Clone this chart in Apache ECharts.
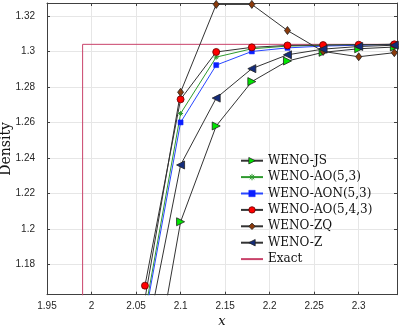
<!DOCTYPE html>
<html>
<head>
<meta charset="utf-8">
<script src="https://cdn.jsdelivr.net/npm/echarts@6/dist/echarts.min.js"></script>
<style>
  html, body { margin: 0; padding: 0; background: #fff; }
  #chart { width: 399px; height: 326px; }
</style>
</head>
<body>
<div id="chart"></div>
<script>
// sample points (x) shared by all schemes
const xs = [2.06, 2.1, 2.14, 2.18, 2.22, 2.26, 2.3, 2.34];

const wenoJS    = [1.091, 1.204, 1.258, 1.283, 1.2946, 1.2995, 1.3015, 1.3025];
const wenoAO53  = [1.153, 1.265, 1.2968, 1.3015, 1.303, 1.3035, 1.3038, 1.304];
const wenoAON53 = [1.150, 1.260, 1.2923, 1.300, 1.302, 1.303, 1.3035, 1.304];
const wenoAO543 = [1.168, 1.273, 1.2997, 1.3023, 1.3034, 1.3036, 1.3038, 1.304];
const wenoZQ    = [1.1606, 1.277, 1.3265, 1.3265, 1.3118, 1.300, 1.297, 1.2993];
const wenoZ     = [1.1345, 1.236, 1.2737, 1.2903, 1.2981, 1.3013, 1.3028, 1.3035];

// exact solution (step)
const exactX = [1.90, 1.99, 1.99, 2.40];
const exactY = [1.00, 1.00, 1.304, 1.304];

const xTickStep = 0.05;
const yTickStep = 0.02;

function pairs(x, y) {
  return x.map((v, i) => [v, y[i]]);
}

const chart = echarts.init(document.getElementById("chart"));

const axisColor = "#404040";
const labelStyle = { color: "#262626", fontSize: 10, fontFamily: "Liberation Sans, Arial, sans-serif" };
const serif = "DejaVu Serif, serif";

// marker styles, reused for the legend icons
const jsStyle    = { color: "#00e600", borderColor: "#222", borderWidth: 0.8 };
const ao53Style  = { color: "transparent", borderColor: "#2e9a2e", borderWidth: 1 };
const aonStyle   = { color: "#0a1eff", borderColor: "#0a1eff", borderWidth: 0.5 };
const ao543Style = { color: "#ff0000", borderColor: "#600", borderWidth: 0.8 };
const zqStyle    = { color: "#8b3a0b", borderColor: "#222", borderWidth: 0.8 };
const zStyle     = { color: "#142c7c", borderColor: "#222", borderWidth: 0.8 };

function lineSeries(name, data, opts) {
  return Object.assign({
    name: name,
    type: "line",
    data: pairs(xs, data),
    symbolSize: 7,
    lineStyle: { color: "#333", width: 1 },
    emphasis: { disabled: true },
    animation: false
  }, opts);
}

const asterisk = "path://M5,0L5,10M0,5L10,5M1.5,1.5L8.5,8.5M1.5,8.5L8.5,1.5";

const option = {
  animation: false,
  grid: { left: 47, right: 2, top: 3, bottom: 31.3, outerBoundsMode: "none", containLabel: false },
  legend: {
    orient: "vertical",
    left: 240,
    top: 152.7,
    padding: 0,
    itemWidth: 22,
    itemHeight: 8,
    itemGap: 0.4,
    selectedMode: false,
    textStyle: { fontFamily: serif, fontSize: 12, color: "#111", lineHeight: 16 },
    data: [
      { name: "WENO-JS", itemStyle: jsStyle },
      { name: "WENO-AO(5,3)", itemStyle: ao53Style },
      { name: "WENO-AON(5,3)", itemStyle: aonStyle },
      { name: "WENO-AO(5,4,3)", itemStyle: ao543Style },
      { name: "WENO-ZQ", itemStyle: zqStyle },
      { name: "WENO-Z", itemStyle: zStyle },
      { name: "Exact", itemStyle: { opacity: 0 } }
    ]
  },
  xAxis: [
    {
      type: "value",
      min: 1.95,
      max: 2.343,
      interval: xTickStep,
      name: "x",
      nameLocation: "middle",
      nameGap: 20,
      nameMoveOverlap: false,
      nameTextStyle: { fontFamily: serif, fontStyle: "italic", fontSize: 13, color: "#111" },
      axisLine: { lineStyle: { color: axisColor } },
      axisTick: { inside: true, length: 3, lineStyle: { color: axisColor } },
      axisLabel: Object.assign({ margin: 7, showMaxLabel: false }, labelStyle),
      splitLine: { lineStyle: { color: "#e6e6e6" } }
    },
    {
      type: "value",
      position: "top",
      min: 1.95,
      max: 2.343,
      interval: xTickStep,
      axisLine: { lineStyle: { color: axisColor } },
      axisTick: { inside: true, length: 3, lineStyle: { color: axisColor } },
      axisLabel: { show: false },
      splitLine: { show: false }
    }
  ],
  yAxis: [
    {
      type: "value",
      min: 1.1629,
      max: 1.3273,
      splitNumber: 8,
      minInterval: yTickStep,
      maxInterval: yTickStep,
      name: "Density",
      nameLocation: "middle",
      nameGap: 34,
      nameMoveOverlap: false,
      nameTextStyle: { fontFamily: serif, fontSize: 14, color: "#111" },
      axisLine: { lineStyle: { color: axisColor } },
      axisTick: { inside: true, length: 3, lineStyle: { color: axisColor } },
      axisLabel: Object.assign({ margin: 12, showMinLabel: false, showMaxLabel: false }, labelStyle),
      splitLine: { lineStyle: { color: "#e6e6e6" } }
    },
    {
      type: "value",
      position: "right",
      min: 1.1629,
      max: 1.3273,
      splitNumber: 8,
      minInterval: yTickStep,
      maxInterval: yTickStep,
      axisLine: { lineStyle: { color: axisColor } },
      axisTick: { inside: true, length: 3, lineStyle: { color: axisColor } },
      axisLabel: { show: false },
      splitLine: { show: false }
    }
  ],
  series: [
    {
      name: "Exact",
      type: "line",
      data: pairs(exactX, exactY),
      symbol: "none",
      lineStyle: { color: "#c9436a", width: 1 },
      itemStyle: { color: "#c9436a" },
      z: 1,
      animation: false
    },
    lineSeries("WENO-JS", wenoJS, {
      symbol: "triangle", symbolRotate: -90, symbolSize: 8, itemStyle: jsStyle
    }),
    lineSeries("WENO-AO(5,3)", wenoAO53, {
      symbol: asterisk, symbolSize: 5,
      lineStyle: { color: "#2e9a2e", width: 1 },
      itemStyle: ao53Style
    }),
    lineSeries("WENO-AON(5,3)", wenoAON53, {
      symbol: "rect", symbolSize: 5,
      lineStyle: { color: "#2846ff", width: 1 },
      itemStyle: aonStyle
    }),
    lineSeries("WENO-AO(5,4,3)", wenoAO543, {
      symbol: "circle", symbolSize: 7, itemStyle: ao543Style
    }),
    lineSeries("WENO-ZQ", wenoZQ, {
      symbol: "diamond", symbolSize: [6, 8], itemStyle: zqStyle
    }),
    lineSeries("WENO-Z", wenoZ, {
      symbol: "triangle", symbolRotate: 90, symbolSize: 8, itemStyle: zStyle
    })
  ]
};

chart.setOption(option);
</script>
</body>
</html>
